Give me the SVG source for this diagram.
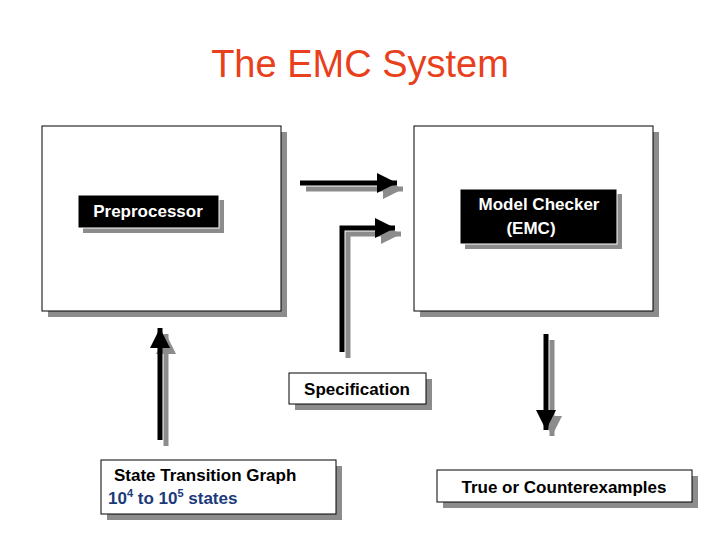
<svg xmlns="http://www.w3.org/2000/svg" width="720" height="540" viewBox="0 0 720 540">
<style>
.sh{fill:#8c8c8c}
.bx{fill:#fff;stroke:#000;stroke-width:1}
.t{font-family:"Liberation Sans",Arial,sans-serif;font-weight:bold;font-size:17px}
.ln{stroke-width:5;fill:none}
</style>
<defs>
<marker id="ah" markerUnits="userSpaceOnUse" markerWidth="22" markerHeight="20" refX="20" refY="10" orient="auto"><path d="M0,0 L20,10 L0,20 Z" fill="#000"/></marker>
<marker id="ahs" markerUnits="userSpaceOnUse" markerWidth="22" markerHeight="20" refX="20" refY="10" orient="auto"><path d="M0,0 L20,10 L0,20 Z" fill="#8c8c8c"/></marker>
</defs>
<rect width="720" height="540" fill="#fff"/>
<text x="360" y="77" text-anchor="middle" font-family="Liberation Sans,Arial,sans-serif" font-size="38" fill="#e8401c">The EMC System</text>
<g id="preproc-box"><rect class="sh" x="48" y="132" width="239" height="185"/><rect class="bx" x="42" y="126" width="239" height="185"/></g>
<g id="checker-box"><rect class="sh" x="420" y="132" width="239" height="185"/><rect class="bx" x="414" y="126" width="239" height="185"/></g>
<g id="preprocessor"><rect class="sh" x="83" y="200" width="141" height="33"/><rect x="78" y="195" width="141" height="33" fill="#000" stroke="#fff"/><text class="t" x="148" y="217" text-anchor="middle" fill="#fff">Preprocessor</text></g>
<g id="model-checker"><rect class="sh" x="465" y="194" width="157" height="55"/><rect x="460" y="189" width="157" height="55" fill="#000" stroke="#fff"/><text class="t" x="539" y="210" text-anchor="middle" fill="#fff">Model Checker</text><text class="t" x="531" y="234" text-anchor="middle" fill="#fff">(EMC)</text></g>
<g id="specification"><rect class="sh" x="295" y="379" width="137" height="31"/><rect class="bx" x="289" y="373" width="137" height="31"/><text class="t" x="357" y="395" text-anchor="middle" fill="#000">Specification</text></g>
<g id="stg"><rect class="sh" x="107" y="466" width="235" height="54"/><rect class="bx" x="101" y="460" width="235" height="54"/><text class="t" x="114" y="481" fill="#000">State Transition Graph</text><text class="t" x="108" y="504" fill="#1a3a7a">10<tspan font-size="11" dy="-7">4</tspan><tspan dy="7"> to 10</tspan><tspan font-size="11" dy="-7">5</tspan><tspan dy="7"> states</tspan></text></g>
<g id="result"><rect class="sh" x="443" y="476" width="255" height="32"/><rect class="bx" x="437" y="470" width="255" height="32"/><text class="t" x="564" y="493" text-anchor="middle" fill="#000">True or Counterexamples</text></g>
<g id="connectors">
<path class="ln" stroke="#8c8c8c" d="M306,189 L403,189" marker-end="url(#ahs)"/>
<path class="ln" stroke="#000" d="M300,183 L397,183" marker-end="url(#ah)"/>
<path class="ln" stroke="#8c8c8c" d="M348,358 L348,234 L401,234" marker-end="url(#ahs)"/>
<path class="ln" stroke="#000" d="M342,352 L342,228 L395,228" marker-end="url(#ah)"/>
<path class="ln" stroke="#8c8c8c" d="M166,446 L166,334" marker-end="url(#ahs)"/>
<path class="ln" stroke="#000" d="M160,440 L160,328" marker-end="url(#ah)"/>
<path class="ln" stroke="#8c8c8c" d="M552,340 L552,436" marker-end="url(#ahs)"/>
<path class="ln" stroke="#000" d="M546,334 L546,430" marker-end="url(#ah)"/>
</g>
</svg>
